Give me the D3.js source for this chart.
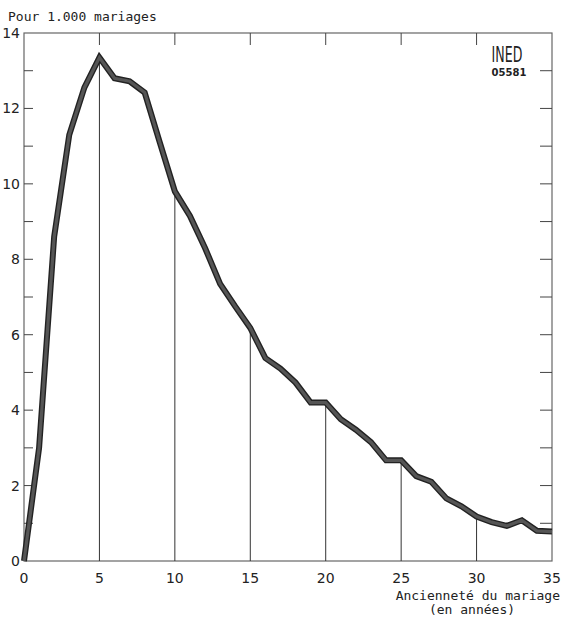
<!DOCTYPE html>
<html>
<head>
<meta charset="utf-8">
<script src="https://cdn.jsdelivr.net/npm/d3@7"></script>
<style>
  body { margin: 0; background: #fff; }
  text { fill: #222; }
</style>
</head>
<body>
<div id="chart"></div>
<script>
// Chart values
const years = d3.range(0, 36);
const rates = [0, 3.0, 8.6, 11.3, 12.55, 13.35, 12.8, 12.72, 12.42, 11.1,
  9.8, 9.15, 8.3, 7.35, 6.75, 6.18, 5.38, 5.1, 4.73, 4.2,
  4.2, 3.76, 3.48, 3.15, 2.67, 2.67, 2.25, 2.1, 1.66, 1.45,
  1.18, 1.03, 0.93, 1.08, 0.8, 0.78];
const xTicks = [0, 5, 10, 15, 20, 25, 30, 35];
const yTicks = [0, 2, 4, 6, 8, 10, 12, 14];
const dropLines = [5, 10, 15, 20, 25, 30];

const width = 563;
const height = 618;
const margin = {top: 33, right: 11, bottom: 57, left: 24};

const svg = d3.select("#chart")
  .append("svg")
  .attr("width", width)
  .attr("height", height);

const x = d3.scaleLinear().domain([0, 35]).range([margin.left, width - margin.right]);
const y = d3.scaleLinear().domain([0, 14]).range([height - margin.bottom, margin.top]);

const frameColor = "#666";
const mono = "'DejaVu Sans Mono', 'Liberation Mono', monospace";

// frame
svg.append("rect")
  .attr("x", x(0))
  .attr("y", y(14))
  .attr("width", x(35) - x(0))
  .attr("height", y(0) - y(14))
  .attr("fill", "none")
  .attr("stroke", frameColor)
  .attr("stroke-width", 1.2);

// left and right ticks at every unit, pointing inward
const units = d3.range(1, 14);
svg.selectAll(".ltick")
  .data(units)
  .enter()
  .append("line")
  .attr("x1", x(0))
  .attr("x2", x(0) + 9)
  .attr("y1", d => y(d))
  .attr("y2", d => y(d))
  .attr("stroke", "#444")
  .attr("stroke-width", 1);

svg.selectAll(".rtick")
  .data(units)
  .enter()
  .append("line")
  .attr("x1", x(35))
  .attr("x2", x(35) - 12)
  .attr("y1", d => y(d))
  .attr("y2", d => y(d))
  .attr("stroke", "#444")
  .attr("stroke-width", 1);

// top ticks
svg.selectAll(".ttick")
  .data(dropLines)
  .enter()
  .append("line")
  .attr("x1", d => x(d))
  .attr("x2", d => x(d))
  .attr("y1", y(14))
  .attr("y2", y(14) + 12)
  .attr("stroke", "#444")
  .attr("stroke-width", 1);

// vertical drop lines from the curve to the baseline
svg.selectAll(".drop")
  .data(dropLines)
  .enter()
  .append("line")
  .attr("x1", d => x(d))
  .attr("x2", d => x(d))
  .attr("y1", d => y(rates[d]))
  .attr("y2", y(0))
  .attr("stroke", "#333")
  .attr("stroke-width", 1);

// curve
const line = d3.line()
  .x((d, i) => x(years[i]))
  .y(d => y(d));

svg.append("path")
  .datum(rates)
  .attr("d", line)
  .attr("fill", "none")
  .attr("stroke", "#222")
  .attr("stroke-width", 6)
  .attr("stroke-linejoin", "miter");

svg.append("path")
  .datum(rates)
  .attr("d", line)
  .attr("fill", "none")
  .attr("stroke", "#555")
  .attr("stroke-width", 3.2)
  .attr("stroke-linejoin", "miter");

// y tick labels
svg.selectAll(".ylab")
  .data(yTicks)
  .enter()
  .append("text")
  .attr("x", x(0) - 4)
  .attr("y", d => y(d) + 5)
  .attr("text-anchor", "end")
  .attr("font-family", "'DejaVu Sans', sans-serif")
  .attr("font-size", "14px")
  .text(d => d);

// x tick labels
svg.selectAll(".xlab")
  .data(xTicks)
  .enter()
  .append("text")
  .attr("x", d => x(d))
  .attr("y", y(0) + 22)
  .attr("text-anchor", "middle")
  .attr("font-family", "'DejaVu Sans', sans-serif")
  .attr("font-size", "14px")
  .text(d => d);

// titles
svg.append("text")
  .attr("x", 8)
  .attr("y", 21)
  .attr("font-family", mono)
  .attr("font-size", "13px")
  .text("Pour 1.000 mariages");

svg.append("text")
  .attr("x", 560)
  .attr("y", 600)
  .attr("text-anchor", "end")
  .attr("font-family", mono)
  .attr("font-size", "13px")
  .text("Ancienneté du mariage");

svg.append("text")
  .attr("x", 472)
  .attr("y", 614)
  .attr("text-anchor", "middle")
  .attr("font-family", mono)
  .attr("font-size", "13px")
  .text("(en années)");

// INED mark
svg.append("text")
  .attr("x", 507)
  .attr("y", 62)
  .attr("text-anchor", "middle")
  .attr("font-family", "'DejaVu Sans', sans-serif")
  .attr("font-size", "21px")
  .attr("font-weight", "normal")
  .attr("transform", "translate(507,0) scale(0.6,1) translate(-507,0)")
  .text("INED");

svg.append("text")
  .attr("x", 509)
  .attr("y", 76)
  .attr("text-anchor", "middle")
  .attr("font-family", "'DejaVu Sans', sans-serif")
  .attr("font-size", "10px")
  .attr("font-weight", "bold")
  .text("05581");
</script>
</body>
</html>
